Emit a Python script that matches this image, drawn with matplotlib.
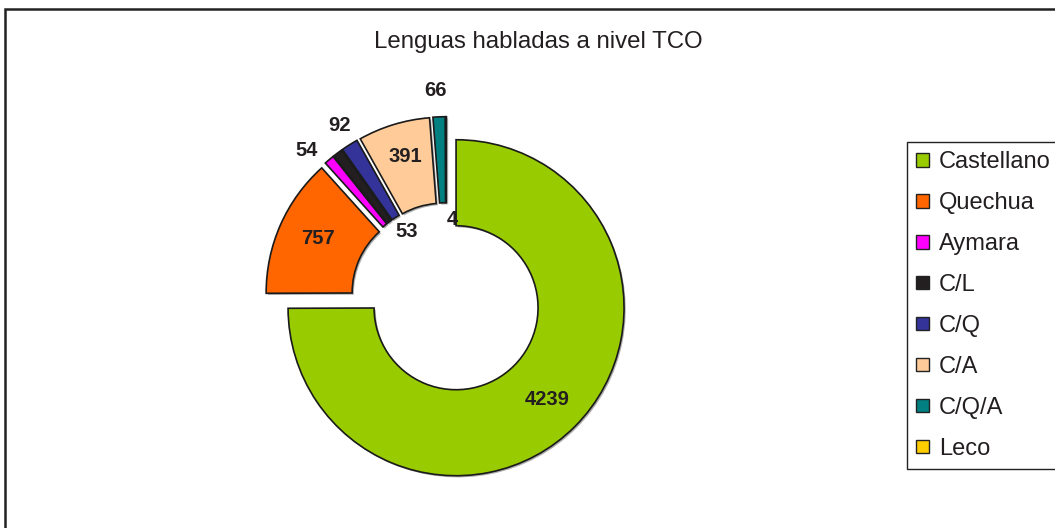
import matplotlib
matplotlib.use("Agg")
import matplotlib.pyplot as plt
from matplotlib.patches import Patch, Rectangle
import matplotlib.patheffects as pe
import numpy as np

plt.rcParams['font.family'] = ['Liberation Sans', 'DejaVu Sans']

# ---- data ----
title = "Lenguas habladas a nivel TCO"
categories = ["Castellano", "Quechua", "Aymara", "C/L", "C/Q", "C/A", "C/Q/A", "Leco"]
values = [4239, 757, 54, 53, 92, 391, 66, 4]
colors = ["#99CC00", "#FF6600", "#FF00FF", "#231F20", "#333399", "#FFCC99", "#008080", "#FFCC00"]

# label placement style (radial distance as fraction of radius, clockwise angle shift in deg)
label_dist = [0.77, 0.76, 1.13, 0.385, 1.13, 0.80, 1.16, 0.39]
label_shift = [0, 1, -3.5, 7, 0.5, 1, -0.7, 5.3]

W, H = 1055, 528
fig = plt.figure(figsize=(W / 100, H / 100), dpi=100)
fig.patch.set_facecolor("white")

# outer frame of the chart area
fig.add_artist(Rectangle((5 / W, -0.2), 2.0, 1 - 8.5 / H + 0.2, transform=fig.transFigure,
                         fill=False, ec="#222222", lw=1.8, zorder=0))

# donut axes
cx, cy = 446.5, 298.2   # pixel center
R_px = 168.0
half = 220.0
ax = fig.add_axes([(cx - half) / W, (H - cy - half) / H, 2 * half / W, 2 * half / H])
ax.axis("off")

explode_amt = 13.5 / R_px
wedges, _ = ax.pie(values, colors=colors, startangle=90, counterclock=False,
                   explode=[explode_amt] * len(values), radius=1.0,
                   wedgeprops=dict(width=0.512, edgecolor="#1a1a1a", linewidth=1.2))
lim = half / R_px
ax.set_xlim(-lim, lim)
ax.set_ylim(-lim, lim)
ax.set_aspect("auto")

for w in wedges:
    w.set_path_effects([pe.SimplePatchShadow(offset=(1.2, -1.2), shadow_rgbFace="#777777", alpha=0.6),
                        pe.Normal()])

for w, v, d, s in zip(wedges, values, label_dist, label_shift):
    mid = np.deg2rad((w.theta1 + w.theta2) / 2 - s)
    x0, y0 = w.center
    ax.text(x0 + d * np.cos(mid), y0 + d * np.sin(mid), f"{v}", ha="center", va="center",
            fontsize=14.5, fontweight="bold", color="#231F20", clip_on=False)

# title
fig.text(538 / W, 1 - 48.3 / H, title, ha="center", va="baseline", fontsize=17.3, color="#231F20")

# legend
handles = [Patch(facecolor=c, edgecolor="#222222", linewidth=1.0) for c in colors]
leg = fig.legend(handles, categories, loc="upper left",
                 bbox_to_anchor=(907 / W, 1 - 142 / H), bbox_transform=fig.transFigure,
                 borderaxespad=0, frameon=True, fancybox=False, edgecolor="#222222",
                 framealpha=1, fontsize=17, handlelength=0.55, handleheight=0.5,
                 handletextpad=0.4, labelspacing=0.8, borderpad=0.4)
leg.get_frame().set_linewidth(1.0)
for t in leg.get_texts():
    t.set_color("#231F20")

fig.savefig("out.png", dpi=100)
